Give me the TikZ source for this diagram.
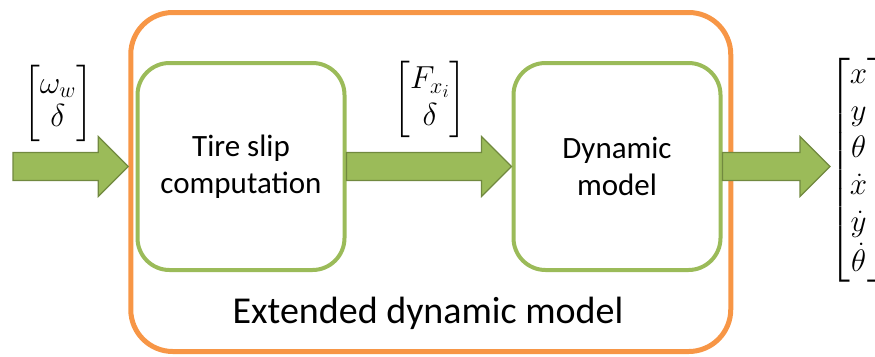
\documentclass[tikz,border=0pt]{standalone}
\usepackage{amsmath}
\usepackage{fontspec}
\setmainfont{Carlito}
\usetikzlibrary{calc}
\DeclareMathSizes{24.88}{24.88}{17.28}{14.4}
\definecolor{og}{HTML}{9BBB59}
\definecolor{ogd}{HTML}{71893F}
\definecolor{orng}{HTML}{F79646}
\newcommand\fatarr[2]{%
  \path[fatarrow] let \p1=(#1), \p2=(#2) in
    (\x1,\y1+14pt) -- (\x2-30pt,\y1+14pt) -- (\x2-30pt,\y1+30pt) -- (\x2,\y1)
    -- (\x2-30pt,\y1-30pt) -- (\x2-30pt,\y1-14pt) -- (\x1,\y1-14pt) -- cycle;}
\begin{document}
\begin{tikzpicture}[x=1pt,y=-1pt,
  box/.style={draw=og, line width=4pt, rounded corners=32pt, fill=white,
    minimum width=207pt, minimum height=207pt, align=center, inner sep=0pt,
    font=\fontsize{31}{37}\selectfont},
  outer/.style={draw=orng, line width=5pt, rounded corners=42pt,
    minimum width=600pt, minimum height=339pt, inner sep=0pt},
  fatarrow/.style={fill=og, draw=ogd, line width=1.2pt},
  vec/.style={inner sep=0pt, transform shape}]
\useasboundingbox (0,0) rectangle (875,356);
\clip (0,0) rectangle (875,356);
\node[outer] (ext) at (430.75,182) {};
\node[box] (ts) at (241,166.5) {Tire slip\\computation};
\node[box] (dm) at (617,166.5) {Dynamic\\model};
\node[font=\fontsize{38}{42}\selectfont, inner sep=0pt] (lbl) at (428,313) {Extended dynamic model};
\coordinate (in) at (13,166.5);
\coordinate (out) at (830,166.5);
\fatarr{in}{ext.west}
\fatarr{ts.east}{dm.west}
\fatarr{dm.east}{out}
\begin{scope}[shift={(58,103)}, scale=1.28]
\node[vec, font=\fontsize{24.88}{26}\selectfont] (u) at (0,0) {$\begin{bmatrix}\omega_w\\ \delta\end{bmatrix}$};
\end{scope}
\begin{scope}[shift={(430,99.5)}, scale=1.28]
\node[vec, font=\fontsize{24.88}{29}\selectfont] (f) at (0,0) {$\begin{bmatrix}F_{x_i}\\ \delta\end{bmatrix}$};
\end{scope}
\begin{scope}[shift={(829,170)}, scale=1.25]
\node[vec, anchor=west, font=\fontsize{24.88}{29.6}\selectfont] (s) at (0,0) {$\begin{bmatrix}x\\ y\\ \theta\\ \dot x\\ \dot y\\ \dot\theta\end{bmatrix}$};
\end{scope}
\end{tikzpicture}
\end{document}
